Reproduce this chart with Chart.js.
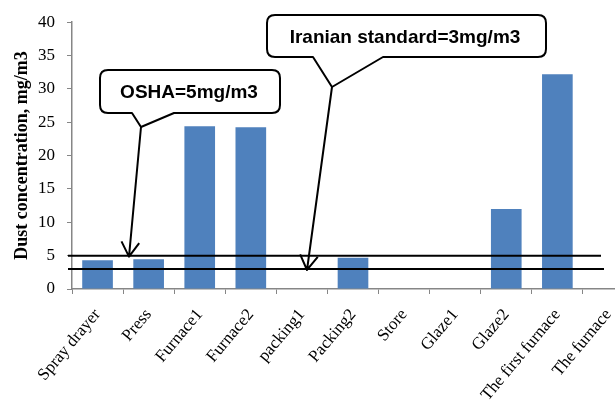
<!DOCTYPE html>
<html>
<head>
<meta charset="utf-8">
<script src="https://cdn.jsdelivr.net/npm/chart.js@4.4.1/dist/chart.umd.min.js"></script>
<style>
    html, body { margin: 0; padding: 0; background: #fff; overflow: hidden; }
    #wrap { width: 640px; height: 405px; }
</style>
</head>
<body>
<div id="wrap"><canvas id="grafico-poeira" width="640" height="405"></canvas></div>
<script>
// categorias e valores medidos (mg/m3)
const categorias = ["Spray drayer", "Press", "Furnace1", "Furnace2", "packing1", "Packing2",
    "Store", "Glaze1", "Glaze2", "The first furnace", "The furnace"]
const concentracao = [4.3, 4.45, 24.4, 24.25, null, 4.7, null, null, 12, 32.2, null]
const ticksY = [0, 5, 10, 15, 20, 25, 30, 35, 40]

// limites de referencia
const limiteOsha = 5
const limiteIran = 3
const textoOsha = "OSHA=5mg/m3"
const textoIran = "Iranian standard=3mg/m3"

function caixaBalao(ctx, x, y, w, h, r, cauda1, cauda2, ponta) {
    ctx.beginPath()
    ctx.moveTo(x + r, y)
    ctx.lineTo(x + w - r, y)
    ctx.quadraticCurveTo(x + w, y, x + w, y + r)
    ctx.lineTo(x + w, y + h - r)
    ctx.quadraticCurveTo(x + w, y + h, x + w - r, y + h)
    ctx.lineTo(cauda2, y + h)
    ctx.lineTo(ponta.x, ponta.y)
    ctx.lineTo(cauda1, y + h)
    ctx.lineTo(x + r, y + h)
    ctx.quadraticCurveTo(x, y + h, x, y + h - r)
    ctx.lineTo(x, y + r)
    ctx.quadraticCurveTo(x, y, x + r, y)
    ctx.closePath()
    ctx.fillStyle = '#fff'
    ctx.fill()
    ctx.stroke()
}

function seta(ctx, de, ate) {
    ctx.beginPath()
    ctx.moveTo(de.x, de.y)
    ctx.lineTo(ate.x, ate.y)
    const ang = Math.atan2(ate.y - de.y, ate.x - de.x)
    const tam = 17
    ctx.moveTo(ate.x - tam * Math.cos(ang - 0.55), ate.y - tam * Math.sin(ang - 0.55))
    ctx.lineTo(ate.x, ate.y)
    ctx.lineTo(ate.x - tam * Math.cos(ang + 0.55), ate.y - tam * Math.sin(ang + 0.55))
    ctx.stroke()
}

const pluginLimites = {
    id: 'limites',
    afterDatasetsDraw(chart) {
        const { ctx, chartArea, scales } = chart
        const y = scales.y
        ctx.save()
        ctx.strokeStyle = '#000'
        ctx.lineWidth = 2
        ctx.beginPath()
        ctx.moveTo(chartArea.left - 4, y.getPixelForValue(limiteOsha))
        ctx.lineTo(601, y.getPixelForValue(limiteOsha))
        ctx.moveTo(chartArea.left - 4, y.getPixelForValue(limiteIran))
        ctx.lineTo(604, y.getPixelForValue(limiteIran))
        ctx.stroke()

        // balao OSHA
        ctx.lineWidth = 2
        ctx.lineJoin = 'round'
        const pontaOsha = { x: 141, y: 127 }
        caixaBalao(ctx, 100, 70, 180, 43, 8, 132, 174, pontaOsha)
        seta(ctx, pontaOsha, { x: 129, y: y.getPixelForValue(limiteOsha) + 1 })

        // balao Iran
        const pontaIran = { x: 332, y: 87 }
        caixaBalao(ctx, 267, 15, 279, 42, 8, 313, 383, pontaIran)
        seta(ctx, pontaIran, { x: 307, y: y.getPixelForValue(limiteIran) + 1 })

        ctx.fillStyle = '#000'
        ctx.font = 'bold 19px "Liberation Sans", sans-serif'
        ctx.textAlign = 'center'
        ctx.textBaseline = 'middle'
        ctx.fillText(textoOsha, 189, 93)
        ctx.fillText(textoIran, 405, 38)
        ctx.restore()
    }
}

let graficoPoeira = new Chart(
    document.getElementById("grafico-poeira"),
    {
        type: "bar",
        data: {
            labels: categorias,
            datasets: [{
                label: "",
                data: concentracao,
                backgroundColor: "#4F81BD",
                barPercentage: 1,
                categoryPercentage: 0.6,
            }]
        },
        options: {
            responsive: false,
            animation: false,
            devicePixelRatio: 1,
            layout: { padding: { left: 0, right: 6, top: 0, bottom: 0 } },
            scales: {
                x: {
                    grid: {
                        display: true,
                        drawOnChartArea: false,
                        drawTicks: true,
                        tickLength: 5,
                        color: '#868686',
                        offset: true,
                    },
                    border: { color: '#868686', width: 1.5 },
                    ticks: {
                        color: '#000',
                        font: { family: '"Liberation Serif", serif', size: 17 },
                        maxRotation: 50,
                        minRotation: 50,
                        padding: 11,
                        autoSkip: false,
                    },
                    afterFit: scale => { scale.height = 116 }
                },
                y: {
                    min: 0,
                    max: 40,
                    afterBuildTicks: scale => { scale.ticks = ticksY.map(v => ({ value: v })) },
                    grid: {
                        display: true,
                        drawOnChartArea: false,
                        tickLength: 5,
                        color: '#868686',
                    },
                    border: { color: '#868686', width: 1.5 },
                    ticks: {
                        color: '#000',
                        font: { family: '"Liberation Serif", serif', size: 17 },
                        padding: 12,
                    },
                    title: {
                        display: true,
                        text: "Dust concentration, mg/m3",
                        color: '#000',
                        font: { family: '"Liberation Serif", serif', size: 18, weight: 'bold' },
                        padding: { top: 12, bottom: 0 },
                    },
                    afterFit: scale => { scale.width = 72 }
                }
            },
            plugins: {
                legend: { display: false },
                tooltip: { enabled: false },
            }
        },
        plugins: [pluginLimites]
    }
)
</script>
</body>
</html>
